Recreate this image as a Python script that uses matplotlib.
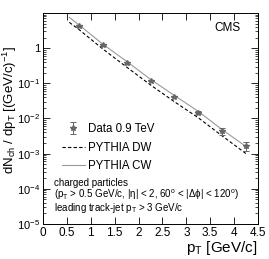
import matplotlib
matplotlib.use('Agg')
import matplotlib.pyplot as plt
import numpy as np

plt.rcParams['font.family'] = ['Liberation Sans', 'DejaVu Sans']
plt.rcParams['mathtext.fontset'] = 'custom'
plt.rcParams['mathtext.rm'] = 'Liberation Sans'
plt.rcParams['mathtext.it'] = 'Liberation Sans'

# data
pt_data = [0.75, 1.25, 1.75, 2.25, 2.75, 3.25, 3.75, 4.25]
dn_data = [4.2, 1.2, 0.38, 0.118, 0.042, 0.0148, 0.0043, 0.0017]
dn_err = [0.15, 0.04, 0.015, 0.005, 0.002, 0.0015, 0.0009, 0.0005]

pt_model = [0.55, 0.75, 1.25, 1.75, 2.25, 2.75, 3.25, 3.75, 4.25]
pythia_cw = [7.5, 4.6, 1.3, 0.42, 0.13, 0.045, 0.016, 0.0048, 0.0016]
pythia_dw = [5.4, 3.4, 0.95, 0.29, 0.09, 0.03, 0.0105, 0.0032, 0.001]

fig = plt.figure(figsize=(2.69, 2.59), dpi=100)
ax = fig.add_axes([0.160, 0.135, 0.799, 0.815])

ax.plot(pt_model, pythia_dw, color='black', ls=(0, (3, 2)), lw=0.8, label='PYTHIA DW')
ax.plot(pt_model, pythia_cw, color='#999999', ls='-', lw=0.8, label='PYTHIA CW')
ax.errorbar(pt_data, dn_data, yerr=dn_err, fmt='*', color='#666666', ms=4,
            elinewidth=0.7, capsize=2, capthick=0.7, label='Data 0.9 TeV')

ax.set_yscale('log')
ax.set_xlim(0, 4.5)
ax.set_ylim(1e-5, 10)
ax.set_xticks(np.arange(0, 4.51, 0.5))
ax.set_xticklabels(['0', '0.5', '1', '1.5', '2', '2.5', '3', '3.5', '4', '4.5'])
ax.set_yticks([1e-5, 1e-4, 1e-3, 1e-2, 1e-1, 1])
ax.set_yticklabels([r'$10^{-5}$', r'$10^{-4}$', r'$10^{-3}$', r'$10^{-2}$', r'$10^{-1}$', '1'])
ax.tick_params(axis='both', which='both', direction='in', top=True, right=True, labelsize=8.5, pad=2)
ax.tick_params(axis='y', labelsize=8)
ax.tick_params(axis='both', which='major', length=5, width=0.6)
ax.tick_params(axis='y', which='minor', length=2.5, width=0.5)
for s in ax.spines.values():
    s.set_linewidth(0.7)

ax.set_xlabel(r'p$_{\rm T}$ [GeV/c]', fontsize=11, loc='right', labelpad=0)
ax.set_ylabel(r'dN$_{\rm ch}$ / dp$_{\rm T}$ [(GeV/c)$^{-1}$]', fontsize=9.5)
ax.yaxis.set_label_coords(-0.112, 0.54)

ax.text(0.92, 0.93, 'CMS', transform=ax.transAxes, ha='right', va='center', fontsize=8.5)

handles, labels = ax.get_legend_handles_labels()
order = [2, 0, 1]
ax.legend([handles[i] for i in order], [labels[i] for i in order], loc='upper left',
          bbox_to_anchor=(0.06, 0.505), frameon=False, fontsize=8.3, handlelength=2.0,
          handletextpad=0.3, labelspacing=0.55, borderpad=0)

ax.text(0.05, 0.195, 'charged particles', transform=ax.transAxes, fontsize=7, va='center')
ax.text(0.05, 0.137, r'(p$_{\rm T}$ > 0.5 GeV/c, |$\eta$| < 2, 60$^o$ < |$\Delta\phi$| < 120$^o$)',
        transform=ax.transAxes, fontsize=7, va='center')
ax.text(0.05, 0.075, r'leading track-jet p$_{\rm T}$ > 3 GeV/c', transform=ax.transAxes,
        fontsize=7, va='center')

fig.savefig('out.png', dpi=100)
